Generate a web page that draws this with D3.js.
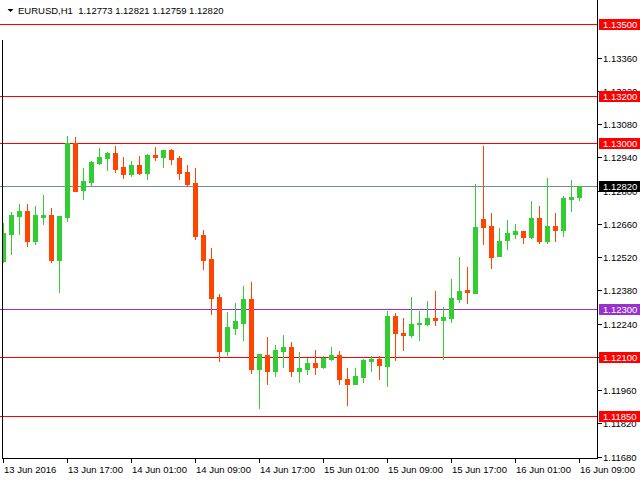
<!DOCTYPE html>
<html><head><meta charset="utf-8">
<script src="https://cdn.jsdelivr.net/npm/d3@7"></script>
<style>body{margin:0;background:#fff}svg{display:block}text{font-family:"Liberation Sans",Arial,sans-serif}</style>
</head><body><svg id="c" width="640" height="480"></svg>
<script>
const symbolTitle = "EURUSD,H1";
const titleValues = ["1.12773", "1.12821", "1.12759", "1.12820"];
const opens = [1.12505,1.12618,1.12694,1.12714,1.12589,1.12689,1.12697,1.12509,1.12690,1.12999,
1.12804,1.12837,1.12917,1.12938,1.12958,1.12899,1.12871,1.12908,1.12875,1.12950,
1.12943,1.12971,1.12937,1.12878,1.12832,1.12613,1.12512,1.12352,1.12126,1.12223,
1.12244,1.12344,1.12050,1.12108,1.12042,1.12126,1.12141,1.12042,1.12050,1.12074,
1.12059,1.12092,1.12108,1.12007,1.11987,1.12016,1.12084,1.12091,1.12063,1.12272,
1.12202,1.12193,1.12240,1.12240,1.12264,1.12256,1.12265,1.12345,1.12381,1.12370,
1.12680,1.12651,1.12526,1.12593,1.12618,1.12630,1.12606,1.12685,1.12589,1.12651,
1.12635,1.12766,1.12773];
const highs = [1.12662,1.12710,1.12743,1.12743,1.12735,1.12781,1.12727,1.12693,1.13030,1.13026,
1.12895,1.12924,1.12979,1.12962,1.12988,1.12941,1.12924,1.12946,1.12954,1.12983,
1.12971,1.12975,1.12946,1.12908,1.12895,1.12634,1.12558,1.12363,1.12289,1.12327,
1.12400,1.12415,1.12112,1.12184,1.12150,1.12192,1.12162,1.12120,1.12095,1.12129,
1.12104,1.12141,1.12125,1.12053,1.12053,1.12091,1.12104,1.12104,1.12293,1.12285,
1.12264,1.12352,1.12293,1.12335,1.12377,1.12310,1.12428,1.12520,1.12478,1.12828,
1.12988,1.12706,1.12642,1.12676,1.12659,1.12630,1.12757,1.12735,1.12853,1.12706,
1.12777,1.12845,1.12821];
const lows = [1.12501,1.12534,1.12618,1.12568,1.12576,1.12661,1.12501,1.12374,1.12673,1.12799,
1.12766,1.12821,1.12913,1.12887,1.12879,1.12854,1.12863,1.12871,1.12850,1.12930,
1.12900,1.12913,1.12850,1.12821,1.12597,1.12471,1.12282,1.12084,1.12109,1.12197,
1.12172,1.12033,1.11886,1.11987,1.12021,1.12059,1.12021,1.11995,1.12029,1.12029,
1.12054,1.12088,1.11987,1.11899,1.11987,1.11995,1.12042,1.12008,1.11979,1.12088,
1.12130,1.12185,1.12172,1.12235,1.12235,1.12092,1.12248,1.12332,1.12328,1.12370,
1.12576,1.12475,1.12526,1.12555,1.12602,1.12581,1.12602,1.12581,1.12581,1.12589,
1.12610,1.12715,1.12759];
const closes = [1.12620,1.12697,1.12714,1.12589,1.12697,1.12697,1.12509,1.12693,1.12999,1.12799,
1.12840,1.12920,1.12941,1.12958,1.12892,1.12871,1.12908,1.12875,1.12950,1.12943,
1.12971,1.12934,1.12875,1.12829,1.12610,1.12509,1.12349,1.12126,1.12226,1.12251,
1.12344,1.12050,1.12112,1.12042,1.12129,1.12141,1.12042,1.12053,1.12074,1.12059,
1.12095,1.12108,1.12008,1.11987,1.12019,1.12087,1.12091,1.12067,1.12272,1.12202,
1.12193,1.12240,1.12244,1.12264,1.12256,1.12268,1.12348,1.12377,1.12374,1.12647,
1.12648,1.12522,1.12588,1.12621,1.12630,1.12606,1.12685,1.12589,1.12651,1.12635,
1.12769,1.12773,1.12820];
const redLevels = [1.13500, 1.13200, 1.13000, 1.12100, 1.11850];
const purpleLevels = [1.12300];
const bidLevel = 1.12820;
const priceTicks = [1.13360,1.13220,1.13080,1.12940,1.12800,1.12660,1.12520,1.12380,1.12240,1.12100,1.11960,1.11820,1.11680];
const timeTickIndex = [0,8,16,24,32,40,48,56,64,72];
const timeTickLabels = ["13 Jun 2016","13 Jun 17:00","14 Jun 01:00","14 Jun 09:00","14 Jun 17:00","15 Jun 01:00","15 Jun 09:00","15 Jun 17:00","16 Jun 01:00","16 Jun 09:00"];

const UP = "#32CD32", DOWN = "#FF4500", RED = "#FF0000", PURPLE = "#9932CC", BID = "#778899";
const svg = d3.select("#c");
const x = d3.scaleLinear().domain([0, 72]).range([3.5, 579.5]);
const y = d3.scaleLinear().domain([1.1168, 1.135]).range([456.7, 24.3]);
const axisX = 597.5, axisY = 458.5;
const fmt = d3.format(".5f");

svg.append("defs").append("clipPath").attr("id","plot").append("rect")
  .attr("x", 2.5).attr("y", 0).attr("width", axisX - 2.5).attr("height", axisY);

// horizontal level lines
const lv = svg.append("g").attr("shape-rendering","crispEdges");
const lineRows = redLevels.map(v => ({v, c: RED}))
  .concat(purpleLevels.map(v => ({v, c: PURPLE})))
  .concat([{v: bidLevel, c: BID}]);
lv.selectAll("line").data(lineRows).join("line")
  .attr("x1", 0).attr("x2", axisX)
  .attr("y1", d => Math.round(y(d.v)) + 0.5).attr("y2", d => Math.round(y(d.v)) + 0.5)
  .attr("stroke", d => d.c).attr("stroke-width", 1);

// candles
const data = opens.map((o, i) => ({i, o, h: highs[i], l: lows[i], c: closes[i]}));
const cg = svg.append("g").attr("clip-path","url(#plot)").attr("shape-rendering","crispEdges");
cg.selectAll("line").data(data).join("line")
  .attr("x1", d => x(d.i)).attr("x2", d => x(d.i))
  .attr("y1", d => Math.round(y(d.h))).attr("y2", d => Math.round(y(d.l)) + 1)
  .attr("stroke", d => d.c >= d.o ? UP : DOWN).attr("stroke-width", 1);
cg.selectAll("rect").data(data).join("rect")
  .attr("x", d => x(d.i) - 2.5).attr("width", 5)
  .attr("y", d => Math.round(y(Math.max(d.o, d.c))))
  .attr("height", d => Math.max(1, Math.round(y(Math.min(d.o, d.c))) - Math.round(y(Math.max(d.o, d.c))) + 1))
  .attr("fill", d => d.c >= d.o ? UP : DOWN);

// frame
const fr = svg.append("g").attr("shape-rendering","crispEdges").attr("stroke","#000");
fr.append("line").attr("x1", axisX).attr("x2", axisX).attr("y1", 0).attr("y2", axisY);
fr.append("line").attr("x1", 2.5).attr("x2", 2.5).attr("y1", 40).attr("y2", axisY);
fr.append("line").attr("x1", 2).attr("x2", axisX + 0.5).attr("y1", axisY).attr("y2", axisY);

// right axis
const ra = svg.append("g");
ra.selectAll("line").data(priceTicks).join("line").attr("shape-rendering","crispEdges")
  .attr("x1", axisX).attr("x2", axisX + 4)
  .attr("y1", d => Math.round(y(d)) + 0.5).attr("y2", d => Math.round(y(d)) + 0.5)
  .attr("stroke", "#000");
ra.selectAll("text").data(priceTicks).join("text")
  .attr("x", 603).attr("y", d => Math.round(y(d)) + 4)
  .attr("font-size", 9.5).attr("fill", "#000").text(d => fmt(d));

// bottom axis
const ba = svg.append("g");
ba.selectAll("line").data(timeTickIndex).join("line").attr("shape-rendering","crispEdges")
  .attr("x1", d => Math.floor(x(d)) + 0.5).attr("x2", d => Math.floor(x(d)) + 0.5)
  .attr("y1", axisY).attr("y2", axisY + 4).attr("stroke", "#000");
ba.selectAll("text").data(timeTickIndex).join("text")
  .attr("x", d => Math.floor(x(d)) + 1).attr("y", 472.5)
  .attr("font-size", 9.5).attr("fill", "#000").text((d, k) => timeTickLabels[k]);

// level labels
const labelRows = redLevels.map(v => ({v, bg: RED}))
  .concat(purpleLevels.map(v => ({v, bg: PURPLE})))
  .concat([{v: bidLevel, bg: "#000"}]);
const lg = svg.append("g");
const lgi = lg.selectAll("g").data(labelRows).join("g");
lgi.append("rect").attr("shape-rendering","crispEdges")
  .attr("x", 599).attr("width", 41)
  .attr("y", d => Math.round(y(d.v)) - 5).attr("height", 11)
  .attr("fill", d => d.bg);
lgi.append("text").attr("x", 603).attr("y", d => Math.round(y(d.v)) + 4)
  .attr("font-size", 9.5).attr("fill", "#fff").text(d => fmt(d.v));

// title
svg.append("path").attr("d", "M7.5,9 L13.5,9 L10.5,12 Z").attr("fill", "#000");
svg.append("text").attr("x", 18).attr("y", 13.5).attr("font-size", 9.5).attr("fill", "#000")
  .attr("xml:space","preserve")
  .text(symbolTitle + "  " + titleValues.join(" "));
</script>
</body></html>
